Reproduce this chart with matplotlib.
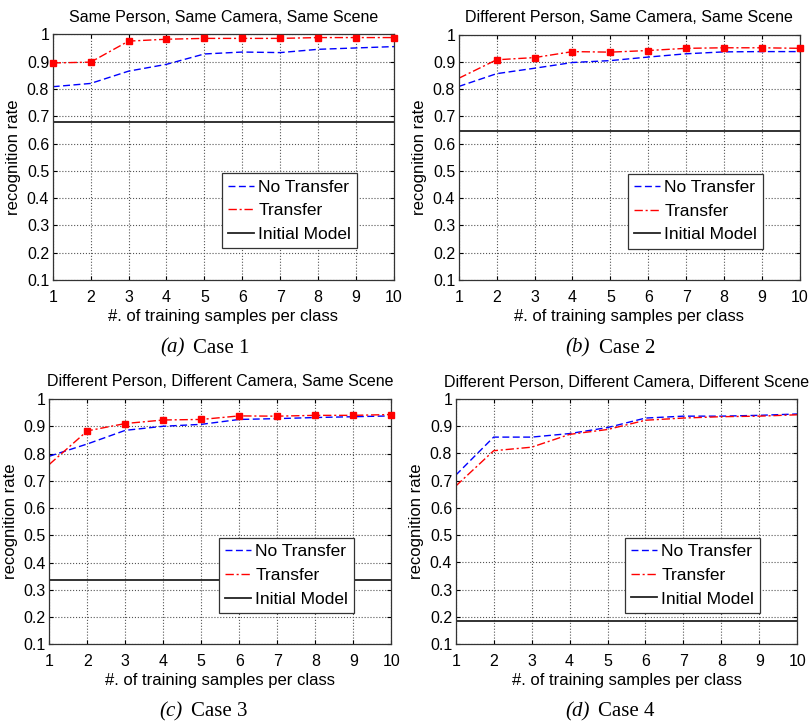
import numpy as np
import matplotlib
matplotlib.use("Agg")
from matplotlib import pyplot as plt

plt.rcParams['font.family'] = ['Liberation Sans', 'DejaVu Sans']

# data
samples = [1, 2, 3, 4, 5, 6, 7, 8, 9, 10]

titles = ["Same Person, Same Camera, Same Scene",
          "Different Person, Same Camera, Same Scene",
          "Different Person, Different Camera, Same Scene",
          "Different Person, Different Camera, Different Scene"]
letters = ["(a)", "(b)", "(c)", "(d)"]
cases = ["Case 1", "Case 2", "Case 3", "Case 4"]

no_transfer_1 = [0.808, 0.820, 0.865, 0.890, 0.928, 0.935, 0.933, 0.945, 0.950, 0.955]
transfer_1 = [0.895, 0.898, 0.975, 0.982, 0.985, 0.985, 0.985, 0.988, 0.988, 0.988]
initial_1 = 0.680

no_transfer_2 = [0.810, 0.857, 0.877, 0.898, 0.905, 0.918, 0.930, 0.937, 0.938, 0.938]
transfer_2 = [0.840, 0.908, 0.916, 0.938, 0.936, 0.942, 0.950, 0.952, 0.952, 0.950]
initial_2 = 0.645

no_transfer_3 = [0.790, 0.835, 0.885, 0.900, 0.907, 0.925, 0.928, 0.932, 0.935, 0.938]
transfer_3 = [0.760, 0.883, 0.910, 0.923, 0.925, 0.938, 0.937, 0.940, 0.940, 0.943]
initial_3 = 0.335

no_transfer_4 = [0.720, 0.860, 0.860, 0.873, 0.895, 0.930, 0.937, 0.937, 0.940, 0.945]
transfer_4 = [0.680, 0.810, 0.823, 0.870, 0.888, 0.922, 0.930, 0.935, 0.937, 0.942]
initial_4 = 0.185

# first sample index that carries a square marker (None = no markers)
marker_start = [0, 1, 1, None]

no_transfer = [no_transfer_1, no_transfer_2, no_transfer_3, no_transfer_4]
transfer = [transfer_1, transfer_2, transfer_3, transfer_4]
initial = [initial_1, initial_2, initial_3, initial_4]

yticks = [0.1, 0.2, 0.3, 0.4, 0.5, 0.6, 0.7, 0.8, 0.9, 1.0]
ytick_labels = ["0.1", "0.2", "0.3", "0.4", "0.5", "0.6", "0.7", "0.8", "0.9", "1"]

W, H = 811, 722
fig = plt.figure(figsize=(W / 100, H / 100), dpi=100)

# axes boxes in pixels: left, top, right, bottom
boxes = [(52.7, 34.3, 394.0, 280.0),
         (458.7, 34.7, 800.0, 280.0),
         (49.3, 399.0, 391.3, 644.3),
         (455.7, 399.0, 797.3, 644.0)]
# caption pieces: right edge of letter, left edge of "Case n", y centre
captions = [(184.3, 193.0, 348.0),
            (590.0, 599.3, 348.0),
            (182.7, 190.7, 712.0),
            (590.0, 597.7, 712.0)]

for i in range(4):
    l, t, r, b = boxes[i]
    ax = fig.add_axes([l / W, 1 - b / H, (r - l) / W, (b - t) / H])

    ax.plot(samples, no_transfer[i], color='#0000ff', lw=1.0,
            dashes=(5, 2.5), label='No Transfer')
    ax.plot(samples, transfer[i], color='#ff0000', lw=1.0,
            dashes=(6, 2, 1.5, 2), label='Transfer')
    if marker_start[i] is not None:
        ms0 = marker_start[i]
        ax.plot(samples[ms0:], transfer[i][ms0:], ls='none', marker='s',
                ms=4.5, color='#ff0000', clip_on=False, zorder=5)
    ax.axhline(initial[i], color='#222222', lw=1.3, label='Initial Model')

    ax.set_xlim(1, 10)
    ax.set_ylim(0.1, 1.0)
    ax.set_xticks(samples)
    ax.set_yticks(yticks)
    ax.set_yticklabels(ytick_labels)
    ax.grid(True, ls=':', color='#555555', lw=0.8)
    ax.tick_params(direction='in', length=3, top=True, right=True,
                   labelsize=11.5, colors='black')
    ax.tick_params(axis='x', pad=7)
    ax.tick_params(axis='y', pad=2.5)
    for s in ax.spines.values():
        s.set_color('#333333')
        s.set_linewidth(0.9)

    ax.set_title(titles[i], fontsize=11.5, pad=9)
    ax.set_xlabel("#. of training samples per class", fontsize=12, labelpad=3)
    ax.set_ylabel("recognition rate", fontsize=12, labelpad=4)

    leg = ax.legend(loc='upper right', bbox_to_anchor=(0.892, 0.434),
                    fontsize=12.5, handlelength=1.5, handletextpad=0.25,
                    borderpad=0.35, labelspacing=0.5, fancybox=False,
                    framealpha=1, edgecolor='#333333', borderaxespad=0)
    leg.get_frame().set_linewidth(0.9)

    lx, cx, cy = captions[i]
    fig.text(lx / W, 1 - cy / H, letters[i], ha='right', va='center',
             fontsize=15, family='Liberation Serif', style='italic')
    fig.text(cx / W, 1 - cy / H, cases[i], ha='left', va='center',
             fontsize=15, family='Liberation Serif')

fig.savefig("out.png", dpi=100)
